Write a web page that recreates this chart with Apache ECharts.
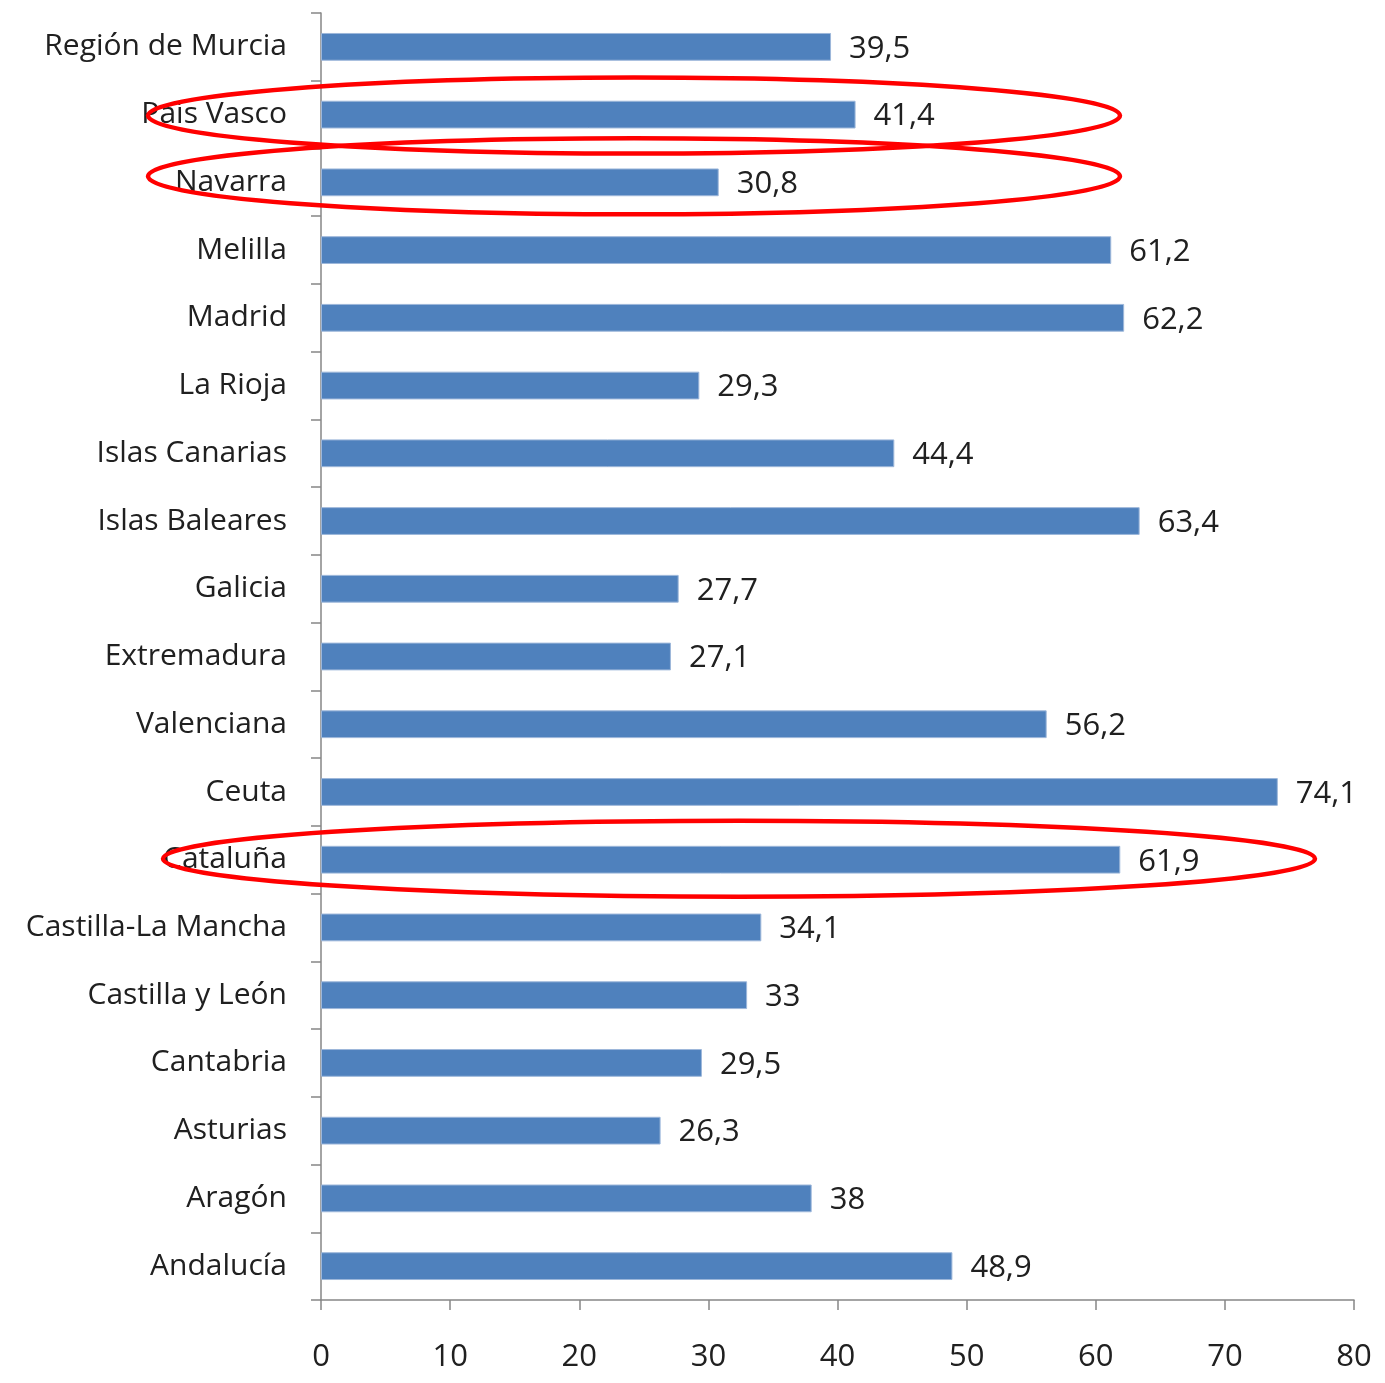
<!DOCTYPE html>
<html><head><meta charset="utf-8">
<script src="https://cdn.jsdelivr.net/npm/echarts@6/dist/echarts.min.js"></script>
<style>html,body{margin:0;padding:0;background:#fff}#c{width:1385px;height:1383px}</style>
</head><body><div id="c"></div>
<script>
var categories = ["Andalucía","Aragón","Asturias","Cantabria","Castilla y León","Castilla-La Mancha","Cataluña","Ceuta","Valenciana","Extremadura","Galicia","Islas Baleares","Islas Canarias","La Rioja","Madrid","Melilla","Navarra","País Vasco","Región de Murcia"];
var values = [48.9,38,26.3,29.5,33,34.1,61.9,74.1,56.2,27.1,27.7,63.4,44.4,29.3,62.2,61.2,30.8,41.4,39.5];
var xTicks = {min:0,max:80,interval:10};
var highlighted = ["País Vasco","Navarra","Cataluña"];

var FONT = 'Open Sans';
var TXT = '#202020';
var chart = echarts.init(document.getElementById('c'));
chart.setOption({
  animation:false,
  backgroundColor:'#fff',
  grid:{left:321,right:31,top:13,bottom:83,containLabel:false},
  xAxis:{type:'value',min:xTicks.min,max:xTicks.max,interval:xTicks.interval,
    splitLine:{show:false},
    axisLine:{show:true,lineStyle:{color:'#868686',width:1.5}},
    axisTick:{show:true,length:10,lineStyle:{color:'#868686',width:1.5}},
    axisLabel:{fontFamily:FONT,fontSize:31,color:TXT,margin:42}},
  yAxis:{type:'category',data:categories,
    axisLine:{show:true,lineStyle:{color:'#868686',width:1.5}},
    axisTick:{show:true,length:10,lineStyle:{color:'#868686',width:1.5}},
    axisLabel:{fontFamily:FONT,fontSize:30,color:TXT,margin:34,padding:[4,0,0,0]}},
  series:[{type:'bar',data:values,barCategoryGap:'59%',
    itemStyle:{color:'#4F81BD',borderColor:'#9DB7DA',borderWidth:1},
    label:{show:true,position:'right',distance:18,fontFamily:FONT,fontSize:31,color:TXT,
      offset:[0,2],
      formatter:function(p){return String(p.value).replace('.',',');}}}]
});

function ell(cat, x1, x2, dy){
  var y = chart.convertToPixel({yAxisIndex:0}, cat) + (dy||0);
  return {type:'ellipse',shape:{cx:(x1+x2)/2,cy:y,rx:(x2-x1)/2,ry:38},
    style:{fill:null,stroke:'#FF0000',lineWidth:4.5},z:100};
}
chart.setOption({graphic:{elements:[
  ell(highlighted[0],148,1120,1),
  ell(highlighted[1],148,1120,-6),
  ell(highlighted[2],163,1315,-1)
]}});
</script></body></html>
